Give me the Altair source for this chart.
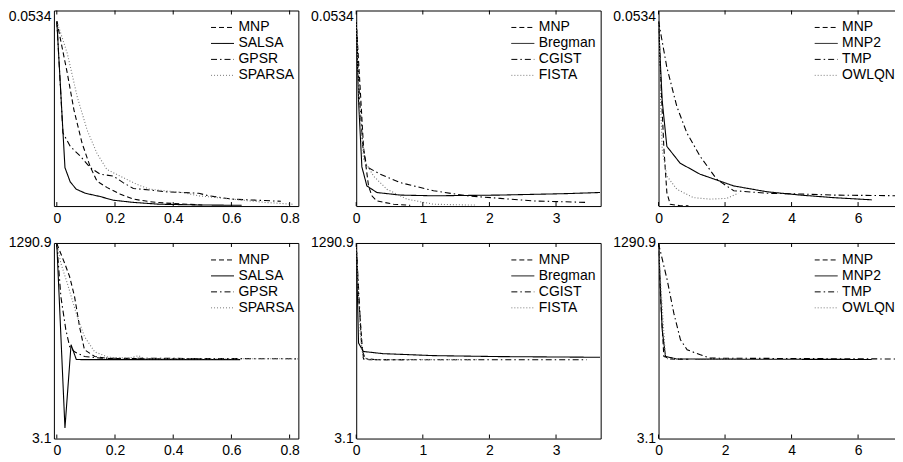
import altair as alt
import pandas as pd

FONT = "Liberation Sans"
W, H = 245, 196

# ---------------- top row (objective, linear axis up to 0.0534) ----------------
T1_MNP_X = [0, 0.036, 0.059, 0.087, 0.115, 0.138, 0.172, 0.217, 0.263, 0.319, 0.375, 0.5]
T1_MNP_Y = [0.0505, 0.0363, 0.0262, 0.0171, 0.0107, 0.0068, 0.0051, 0.0033, 0.0019, 0.0012, 0.0008, 0.0003]
T1_SALSA_X = [0, 0.028, 0.046, 0.067, 0.098, 0.149, 0.194, 0.263, 0.353, 0.488, 0.635]
T1_SALSA_Y = [0.0505, 0.0105, 0.0066, 0.0046, 0.0035, 0.0026, 0.0016, 0.0010, 0.0005, 0.0003, 0.0002]
T1_GPSR_X = [0, 0.021, 0.046, 0.081, 0.115, 0.149, 0.194, 0.228, 0.263, 0.319, 0.375, 0.488, 0.522, 0.602, 0.715, 0.77]
T1_GPSR_Y = [0.0505, 0.0200, 0.0163, 0.0136, 0.0105, 0.0087, 0.0082, 0.0064, 0.0048, 0.0044, 0.0039, 0.0035, 0.0028, 0.0019, 0.0015, 0.0013]
T1_SPARSA_X = [0, 0.036, 0.07, 0.104, 0.138, 0.172, 0.217, 0.273, 0.319, 0.431, 0.488, 0.602, 0.715, 0.81]
T1_SPARSA_Y = [0.0505, 0.0417, 0.0299, 0.0208, 0.0144, 0.0100, 0.0082, 0.0060, 0.0046, 0.0037, 0.0028, 0.0019, 0.0010, 0.0005]

T2_MNP_X = [0, 0.06, 0.11, 0.185, 0.235, 0.31, 0.56, 0.81]
T2_MNP_Y = [0.0505, 0.0320, 0.0160, 0.0055, 0.0028, 0.0014, 0.0005, 0.0002]
T2_BREG_X = [0, 0.035, 0.085, 0.16, 0.31, 0.66, 1.16, 2.16, 3.16, 3.66]
T2_BREG_Y = [0.0505, 0.0288, 0.0107, 0.0055, 0.0037, 0.0030, 0.0028, 0.0030, 0.0034, 0.0037]
T2_CGIST_X = [0, 0.05, 0.1, 0.16, 0.36, 0.66, 1.16, 1.66, 2.16, 2.66, 3.46]
T2_CGIST_Y = [0.0505, 0.0294, 0.0160, 0.0107, 0.0087, 0.0064, 0.0042, 0.0028, 0.0021, 0.0014, 0.0010]
T2_FISTA_X = [0, 0.05, 0.11, 0.26, 0.46, 0.76, 1.16, 1.66, 1.81]
T2_FISTA_Y = [0.0505, 0.0267, 0.0128, 0.0082, 0.0046, 0.0019, 0.0005, 0.0003, 0.0003]

T3_MNP_X = [0, 0.08, 0.16, 0.25, 0.35, 0.65, 0.9]
T3_MNP_Y = [0.0505, 0.0320, 0.0160, 0.0037, 0.0005, 0.0001, 0.0001]
T3_MNP2_X = [0, 0.05, 0.11, 0.25, 0.65, 1.25, 2.26, 3.26, 4.26, 5.26, 6.41]
T3_MNP2_Y = [0.0505, 0.0401, 0.0288, 0.0163, 0.0117, 0.0087, 0.0055, 0.0039, 0.0030, 0.0023, 0.0017]
T3_TMP_X = [0, 0.25, 0.55, 0.85, 1.25, 1.75, 2.26, 3.26, 4.26, 5.26, 7.35]
T3_TMP_Y = [0.0505, 0.0379, 0.0272, 0.0200, 0.0136, 0.0073, 0.0042, 0.0035, 0.0033, 0.0030, 0.0028]
T3_OWLQN_X = [0, 0.05, 0.11, 0.25, 0.55, 1.05, 1.55, 2.05, 2.4]
T3_OWLQN_Y = [0.0505, 0.0320, 0.0155, 0.0082, 0.0046, 0.0023, 0.0019, 0.0021, 0.0035]

# ---------------- bottom row (log axis 3.1 .. 1290.9) ----------------
B1_MNP_X = [0, 0.027, 0.044, 0.061, 0.078, 0.095, 0.13, 0.18, 0.5]
B1_MNP_Y = [1270, 690, 457, 247, 98, 48, 39, 36.5, 36.2]
B1_SALSA_X = [0, 0.028, 0.049, 0.067, 0.1, 0.63]
B1_SALSA_Y = [1270, 4.3, 56, 35.5, 35.3, 35.3]
B1_GPSR_X = [0, 0.014, 0.031, 0.044, 0.061, 0.095, 0.151, 0.84]
B1_GPSR_Y = [1270, 247, 89, 53, 45, 39, 37, 36.2]
B1_SPARSA_X = [0, 0.014, 0.036, 0.070, 0.095, 0.13, 0.177, 0.25, 0.281, 0.30, 0.84]
B1_SPARSA_Y = [1270, 690, 373, 134, 72, 45, 38, 37, 40, 36.5, 36.2]

B2_MNP_X = [0, 0.035, 0.085, 0.11, 0.2, 0.8]
B2_MNP_Y = [1270, 247, 60, 36, 35.2, 35.2]
B2_BREG_X = [0, 0.035, 0.105, 0.4, 1.16, 2.16, 3.66]
B2_BREG_Y = [1270, 59, 45.5, 42.5, 40, 38.8, 38]
B2_CGIST_X = [0, 0.06, 0.085, 0.135, 0.31, 3.46]
B2_CGIST_Y = [1270, 120, 48, 36.6, 35.2, 35.2]
B2_FISTA_X = [0, 0.03, 0.06, 0.1, 0.2, 1.81]
B2_FISTA_Y = [1270, 300, 80, 38, 35.5, 35.3]

B3_MNP_X = [0, 0.06, 0.16, 0.36, 0.9]
B3_MNP_Y = [1270, 247, 39, 36, 35.8]
B3_MNP2_X = [0, 0.11, 0.21, 0.56, 6.41]
B3_MNP2_Y = [1270, 89, 39, 36, 35.5]
B3_TMP_X = [0, 0.26, 0.46, 0.66, 0.86, 1.26, 1.56, 7.35]
B3_TMP_Y = [1270, 413, 148, 65, 48, 41, 37, 36]
B3_OWLQN_X = [0, 0.06, 0.21, 2.4]
B3_OWLQN_Y = [1270, 400, 36.5, 36]

NAMES1 = ["MNP", "SALSA", "GPSR", "SPARSA"]
NAMES2 = ["MNP", "Bregman", "CGIST", "FISTA"]
NAMES3 = ["MNP", "MNP2", "TMP", "OWLQN"]

XDOM1, XTICKS1 = [-0.01, 0.83], [0, 0.2, 0.4, 0.6, 0.8]
XDOM2, XTICKS2 = [0, 3.67], [0, 1, 2, 3]
XDOM3, XTICKS3 = [0, 7.35], [0, 2, 4, 6]

TOP_Y_LABELS = [0.0534]
BOTTOM_Y_LABELS = [3.1, 1290.9]

DASHES = [[5, 3], [1, 0], [6, 3, 1.5, 3], [1, 2]]
COLORS = ["#000000", "#000000", "#000000", "#7a7a7a"]


def frame(names, series):
    rows = []
    for name, (xs, ys) in zip(names, series):
        for i, (a, b) in enumerate(zip(xs, ys)):
            rows.append({"method": name, "x": a, "y": b, "i": i})
    return pd.DataFrame(rows)


def panel(names, series, xdom, xticks, ylog, legend_x):
    df = frame(names, series)
    if ylog:
        yscale = alt.Scale(type="log", domain=[3.1, 1290.9], nice=False)
        yaxis = alt.Axis(values=BOTTOM_Y_LABELS, format=".1f")
    else:
        yscale = alt.Scale(domain=[0, 0.0534], nice=False, zero=False)
        yaxis = alt.Axis(values=TOP_Y_LABELS, format=".4f", labelOffset=6)
    xenc = alt.X("x:Q", scale=alt.Scale(domain=xdom, nice=False, zero=False),
                 axis=alt.Axis(values=xticks, format="~g"), title=None)
    legend = alt.Legend(title=None, orient="none", legendX=legend_x, legendY=10)
    lines = alt.Chart(df).mark_line(strokeWidth=1.1, clip=True).encode(
        x=xenc,
        y=alt.Y("y:Q", scale=yscale, axis=yaxis, title=None),
        color=alt.Color("method:N", scale=alt.Scale(domain=names, range=COLORS), legend=legend),
        strokeDash=alt.StrokeDash("method:N", scale=alt.Scale(domain=names, range=DASHES), legend=legend),
        order="i:Q",
    )
    tdf = pd.DataFrame({"x": xticks})
    bt = alt.Chart(tdf).mark_rule(color="black", strokeWidth=1).encode(
        x=xenc, y=alt.value(H), y2=alt.value(H - 4))
    tt = alt.Chart(tdf).mark_rule(color="black", strokeWidth=1).encode(
        x=xenc, y=alt.value(0), y2=alt.value(4))
    return alt.layer(lines, bt, tt).properties(width=W, height=H)


p1 = panel(NAMES1, [(T1_MNP_X, T1_MNP_Y), (T1_SALSA_X, T1_SALSA_Y), (T1_GPSR_X, T1_GPSR_Y), (T1_SPARSA_X, T1_SPARSA_Y)], XDOM1, XTICKS1, False, 157)
p2 = panel(NAMES2, [(T2_MNP_X, T2_MNP_Y), (T2_BREG_X, T2_BREG_Y), (T2_CGIST_X, T2_CGIST_Y), (T2_FISTA_X, T2_FISTA_Y)], XDOM2, XTICKS2, False, 155)
p3 = panel(NAMES3, [(T3_MNP_X, T3_MNP_Y), (T3_MNP2_X, T3_MNP2_Y), (T3_TMP_X, T3_TMP_Y), (T3_OWLQN_X, T3_OWLQN_Y)], XDOM3, XTICKS3, False, 156)
p4 = panel(NAMES1, [(B1_MNP_X, B1_MNP_Y), (B1_SALSA_X, B1_SALSA_Y), (B1_GPSR_X, B1_GPSR_Y), (B1_SPARSA_X, B1_SPARSA_Y)], XDOM1, XTICKS1, True, 157)
p5 = panel(NAMES2, [(B2_MNP_X, B2_MNP_Y), (B2_BREG_X, B2_BREG_Y), (B2_CGIST_X, B2_CGIST_Y), (B2_FISTA_X, B2_FISTA_Y)], XDOM2, XTICKS2, True, 155)
p6 = panel(NAMES3, [(B3_MNP_X, B3_MNP_Y), (B3_MNP2_X, B3_MNP2_Y), (B3_TMP_X, B3_TMP_Y), (B3_OWLQN_X, B3_OWLQN_Y)], XDOM3, XTICKS3, True, 156)

chart = (
    alt.concat(p1, p2, p3, p4, p5, p6, columns=3, spacing={"row": 37, "column": 58}, bounds="flush")
    .resolve_scale(x="independent", y="independent", color="independent", strokeDash="independent")
    .resolve_legend(color="independent", strokeDash="independent")
    .properties(padding={"left": -1, "top": 0, "right": -9, "bottom": 0}, background="white")
    .configure_view(stroke="black", strokeWidth=1)
    .configure_axis(labelFont=FONT, labelFontSize=14, labelColor="black", ticks=False,
                    domain=False, grid=False)
    .configure_axisX(labelPadding=5, labelFlush=False)
    .configure_axisY(labelPadding=3)
    .configure_legend(labelFont=FONT, labelFontSize=14, labelColor="black", symbolType="stroke",
                      symbolSize=529, symbolStrokeWidth=1, labelOffset=4, padding=0,
                      rowPadding=2, clipHeight=14)
)

chart.save("out.html", embed_options={"renderer": "svg", "actions": False})
